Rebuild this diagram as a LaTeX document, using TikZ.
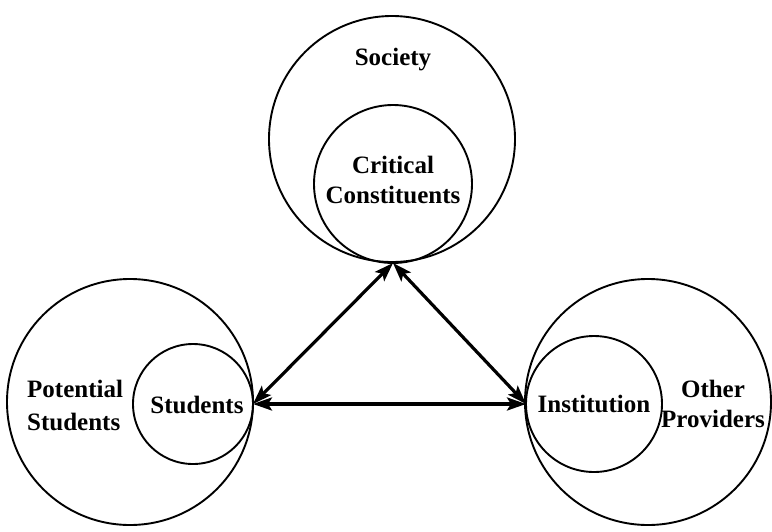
\documentclass[tikz,border=0pt]{standalone}
\usepackage{fontspec}
\setmainfont{Liberation Serif}
\usetikzlibrary{arrows.meta}
\begin{document}
\begin{tikzpicture}[x=1pt,y=-1pt,
  ring/.style={circle,draw,line width=1.9pt,inner sep=0pt,outer sep=0pt,minimum size=#1},
  lbl/.style={inner sep=0pt,font=\fontsize{25}{30}\selectfont\bfseries},
  tip/.tip={Stealth[length=19pt,width=13pt,inset=4pt]},
  link/.style={line width=3.2pt,tip-tip}]
  \useasboundingbox (0,0) rectangle (772,531);

  % society and its critical constituents
  \node[ring=246pt] (soc) at (392,139) {};
  \node[ring=158pt] (crit) at (393,184) {};
  \node[lbl,anchor=base] (socl) at (393,65) {Society};
  \node[lbl,align=center] (critl) at (393,180) {Critical\\Constituents};

  % potential students and enrolled students
  \node[ring=246pt] (pot) at (130,402) {};
  \node[ring=120pt] (stu) at (193,404) {};
  \node[lbl,align=left,anchor=west,font=\fontsize{25}{33}\selectfont\bfseries] (potl) at (27,405) {Potential\\Students};
  \node[lbl,anchor=base] (stul) at (197,413) {Students};

  % institution among other providers
  \node[ring=246pt] (oth) at (648,402) {};
  \node[ring=136pt] (inst) at (594,404) {};
  \node[lbl,anchor=base] (instl) at (594,412) {Institution};
  \node[lbl,align=center] (othl) at (713,404) {Other\\Providers};

  % two-way relationships
  \draw[link] (crit.south) -- (stu.east);
  \draw[link] (crit.south) -- (inst.west);
  \draw[link] (stu.east) -- (inst.west);
\end{tikzpicture}
\end{document}
